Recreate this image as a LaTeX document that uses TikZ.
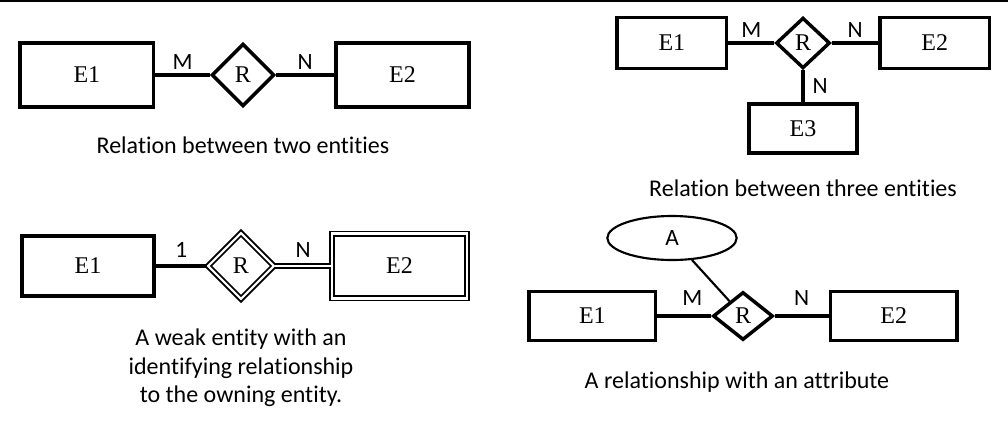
\documentclass[tikz,border=0pt]{standalone}
\usepackage{fontspec}
\setmainfont{Liberation Serif}
\newfontfamily\capfont[Ligatures=NoCommon]{Carlito}
\usetikzlibrary{positioning,shapes.geometric}

\begin{document}
\begin{tikzpicture}
	[x=0.75pt, y=-0.75pt, inner sep=0pt, node distance=40pt,
	entity/.style={draw, rectangle, line width=2.6pt, minimum width=100pt, minimum height=48pt, font=\fontsize{18}{20}\selectfont},
	weakentity/.style={entity, line width=1.3pt, double, double distance=1.8pt, minimum width=101pt, minimum height=48.5pt},
	relation/.style={draw, diamond, line width=2.6pt, minimum size=47pt, font=\fontsize{18}{20}\selectfont},
	weakrelation/.style={relation, line width=1.4pt, double, double distance=1.6pt, minimum size=50pt},
	attribute/.style={draw, ellipse, line width=1.6pt, minimum width=97pt, minimum height=33pt, font=\capfont\fontsize{17.5}{18}\selectfont},
	card/.style={font=\capfont\fontsize{17.5}{18}\selectfont, above=3pt},
	caption/.style={font=\capfont\fontsize{18}{21.4}\selectfont, align=center},
	link/.style={line width=2.4pt}]
	
	\useasboundingbox (0,0) rectangle (1008,426);
	\draw [line width=1.5pt] (0,0.5) -- (1008,0.5);
	
	% two entities
	\node[relation] (r_one)  at (243,75)            {R};
	\node[entity]   (e_one)  [left=41pt of r_one]   {E1};
	\node[entity]   (e_two)  [right=43.5pt of r_one] {E2};
	\node[caption]  (cap_one) at (243,145)          {Relation between two entities};
	
	\draw [link] (e_one) -- node[card] {M} (r_one);
	\draw [link] (r_one) -- node[card] {N} (e_two);
	
	% three entities
	\node[relation] (r_two)   at (803,43) [minimum width=40.5pt, minimum height=38pt] {R};
	\node[entity]   (e_three) [left=34.5pt of r_two, minimum width=82pt, minimum height=38pt]  {E1};
	\node[entity]   (e_four)  [right=35pt of r_two, minimum width=82pt, minimum height=38pt]  {E2};
	\node[entity]   (e_five)  [below=24pt of r_two, minimum width=81pt, minimum height=37pt]  {E3};
	\node[caption]  (cap_two) at (803,188)          {Relation between three entities};
	
	\draw [link] (e_three) -- node[card] {M} (r_two);
	\draw [link] (r_two)   -- node[card] {N} (e_four);
	\draw [link] (r_two)   -- node[card, above=0pt, right=6pt] {N} (e_five);
	
	% weak entity
	\node[weakrelation] (r_three) at (241,266)      {R};
	\node[entity]       (e_six)   [left=38pt of r_three, line width=3.2pt, minimum width=99pt, minimum height=45pt] {E1};
	\node[weakentity]   (e_seven) [right=42pt of r_three] {E2};
	\node[caption]      (cap_three) at (241,368)    {A weak entity with an\\identifying relationship\\to the owning entity.};
	
	\draw [link] (e_six) -- node[card, above=5pt] {1} (r_three);
	\draw [line width=1.1pt, double, double distance=1.6pt] (r_three) -- node[card, above=6pt] {N} (e_seven);
	
	% attribute
	\node[relation]  (r_four)  at (743,316) [minimum width=45pt, minimum height=36pt] {R};
	\node[entity]    (e_eight) [left=40.5pt of r_four, line width=2.4pt, minimum width=95pt, minimum height=36.5pt] {E1};
	\node[entity]    (e_nine)  [right=40.5pt of r_four, line width=2.4pt, minimum width=95pt, minimum height=36.5pt] {E2};
	\node[attribute] (a_one)   at (672,238)         {A};
	\node[caption]   (cap_four) at (737,382)        {A relationship with an attribute};
	
	\draw [link] (e_eight) -- node[card, above=7pt, xshift=6pt] {M} (r_four);
	\draw [link] (r_four)  -- node[card, above=7pt] {N} (e_nine);
	\draw [line width=1.6pt] (a_one) -- (r_four);
\end{tikzpicture}
\end{document}
